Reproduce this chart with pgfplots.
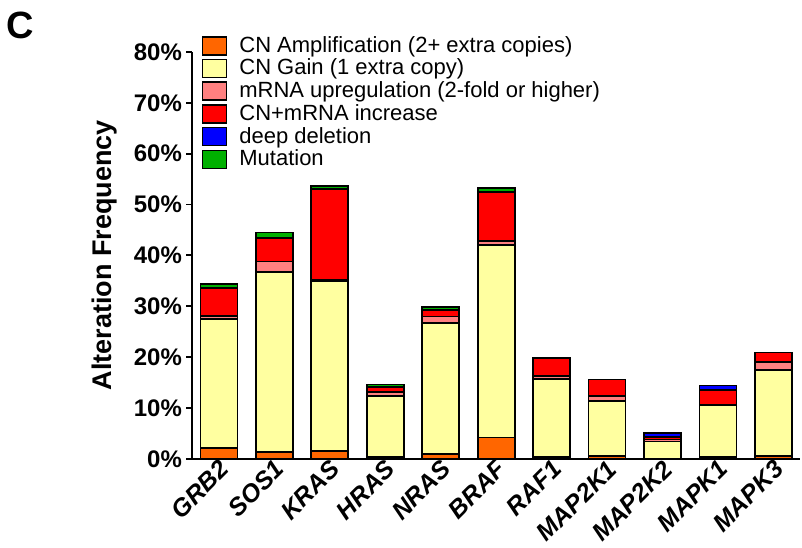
\documentclass[border=0pt]{standalone}
\usepackage{pgfplots}
\pgfplotsset{compat=1.18}
\usepackage{pgfplotstable}
\usepackage{fontspec}
\setmainfont{Liberation Sans}
\definecolor{camp}{HTML}{FF6600}
\definecolor{cgain}{HTML}{FFFFA0}
\definecolor{cmrna}{HTML}{FF8080}
\definecolor{ccnm}{HTML}{FF0000}
\definecolor{cdeep}{HTML}{0000FF}
\definecolor{cmut}{HTML}{00B000}
\pgfplotstableread{
x name amp gain mrna cnm deep mut
0 GRB2 2.2 25.3 0.6 5.5 0 0.7
1 SOS1 1.3 35.5 2.0 4.6 0 1.1
2 KRAS 1.6 33.4 0.1 17.9 0 0.7
3 HRAS 0.3 12.1 0.8 0.9 0 0.5
4 NRAS 1.0 25.7 1.3 1.2 0 0.6
5 BRAF 4.2 37.9 0.7 9.7 0 0.8
6 RAF1 0.3 15.4 0.6 3.6 0 0
7 MAP2K1 0.6 10.8 0.9 3.3 0 0
8 MAP2K2 0 3.4 0.4 0.5 0.7 0
9 MAPK1 0.3 10.2 0.1 3.0 0.8 0
10 MAPK3 0.6 16.8 1.6 1.9 0 0
}\datatable
\begin{document}
\begin{tikzpicture}
\begin{axis}[
  scale only axis,
  width=304pt, height=203.5pt,
  ybar stacked, bar width=18.5pt, bar shift=0pt,
  xmin=-0.48, xmax=10.48, ymin=0, ymax=80,
  axis x line*=bottom, axis y line*=left,
  axis line style={line width=0.9pt},
  xtick=data,
  xticklabels={GRB2,SOS1,KRAS,HRAS,NRAS,BRAF,RAF1,MAP2K1,MAP2K2,MAPK1,MAPK3},
  xtick style={draw=none},
  xticklabel style={rotate=45, anchor=east, font=\bfseries\itshape\fontsize{12.5}{14}\selectfont, inner sep=1pt, xshift=3pt, yshift=-2pt},
  ytick={0,10,...,80},
  tick align=outside,
  major tick length=3pt,
  ytick style={line width=0.9pt, black},
  /pgf/number format/assume math mode=true,
  yticklabel={\pgfmathprintnumber{\tick}\%},
  yticklabel style={font=\bfseries\fontsize{12}{14}\selectfont, inner sep=1pt, xshift=-1pt},
  ylabel={Alteration Frequency},
  ylabel style={font=\bfseries\fontsize{13.5}{15}\selectfont, yshift=4pt},
  every axis plot/.append style={draw=black, line width=0.9pt},
  legend style={at={(rel axis cs:0.015,1.047)}, anchor=north west, draw=none, fill=none,
    font=\fontsize{11}{12}\selectfont, row sep=-1.1pt, inner sep=0pt,
    nodes={inner xsep=6pt, inner ysep=1.5pt}},
  legend cell align=left,
  legend image code/.code={\draw[#1, draw=black, line width=0.8pt] (0pt,-4.5pt) rectangle (12pt,4.5pt);},
]
\addplot[fill=camp] table[x=x, y=amp] {\datatable};
\addlegendentry{CN Amplification (2+ extra copies)}
\addplot[fill=cgain] table[x=x, y=gain] {\datatable};
\addlegendentry{CN Gain (1 extra copy)}
\addplot[fill=cmrna] table[x=x, y=mrna] {\datatable};
\addlegendentry{mRNA upregulation (2-fold or higher)}
\addplot[fill=ccnm] table[x=x, y=cnm] {\datatable};
\addlegendentry{CN+mRNA increase}
\addplot[fill=cdeep] table[x=x, y=deep] {\datatable};
\addlegendentry{deep deletion}
\addplot[fill=cmut] table[x=x, y=mut] {\datatable};
\addlegendentry{Mutation}
\end{axis}
\node[font=\bfseries\fontsize{19}{21}\selectfont] at (-86pt,217pt) {C};
\path (-96pt,-44.5pt) rectangle (305pt,229.5pt);
\end{tikzpicture}
\end{document}
